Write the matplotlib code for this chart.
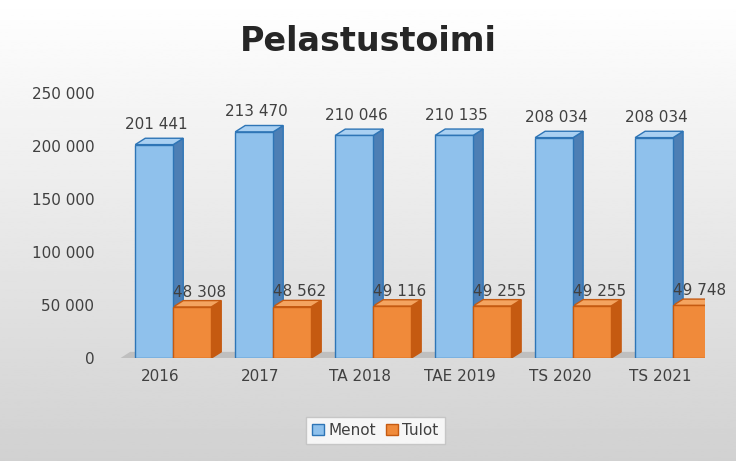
import matplotlib
matplotlib.use("Agg")
import matplotlib.pyplot as plt
from matplotlib.patches import Polygon, Patch
import numpy as np

categories = ["2016", "2017", "TA 2018", "TAE 2019", "TS 2020", "TS 2021"]
menot = [201441, 213470, 210046, 210135, 208034, 208034]
tulot = [48308, 48562, 49116, 49255, 49255, 49748]

def fmt(v):
    return f"{v:,}".replace(",", " ")

fig = plt.figure(figsize=(7.36, 4.61), dpi=100)
bg = fig.add_axes([0, 0, 1, 1], zorder=-10)
grad = np.linspace(1, 0.82, 256).reshape(-1, 1)
bg.imshow(grad, cmap="gray", vmin=0, vmax=1, aspect="auto", extent=[0, 1, 0, 1])
bg.axis("off")

ax = fig.add_axes([0.143, 0.223, 0.815, 0.575])
ax.patch.set_alpha(0)
x = np.arange(len(categories))
w = 0.38
dx, dy = 0.1, 6000

ax.add_patch(Polygon([[-0.55, 0], [len(categories) - 0.6, 0],
                      [len(categories) - 0.6 + dx, dy], [-0.55 + dx, dy]],
                     closed=True, fc="#bfbfbf", ec="none", zorder=0))

def bar3d(xl, h, face, side, top, edge):
    ax.add_patch(Polygon([[xl, 0], [xl + w, 0], [xl + w, h], [xl, h]], fc=face, ec=edge, lw=1, zorder=3))
    ax.add_patch(Polygon([[xl + w, 0], [xl + w + dx, dy], [xl + w + dx, h + dy], [xl + w, h]], fc=side, ec=edge, lw=1, zorder=2))
    ax.add_patch(Polygon([[xl, h], [xl + w, h], [xl + w + dx, h + dy], [xl + dx, h + dy]], fc=top, ec=edge, lw=1, zorder=2))

for i in range(len(categories)):
    bar3d(x[i] - w - 0.02, menot[i], "#8fc1ec", "#4d7fb5", "#a9d0f2", "#2e75b6")
    bar3d(x[i] - 0.02 + 0.0, tulot[i], "#f08a3a", "#c55a11", "#f4a460", "#c55a11")
    ax.text(x[i] - w / 2, menot[i] + 12000, fmt(menot[i]), ha="center", va="bottom", fontsize=11, color="#404040")
    ax.text(x[i] + w / 2 + 0.05, tulot[i] + 7000, fmt(tulot[i]), ha="center", va="bottom", fontsize=11, color="#404040")

ax.set_xlim(-0.7, len(categories) - 0.7)
ax.set_ylim(0, 250000)
ax.set_yticks(range(0, 250001, 50000))
ax.set_yticklabels([fmt(v) for v in range(0, 250001, 50000)], fontsize=11, color="#404040")
ax.set_xticks(x - 0.15)
ax.set_xticklabels(categories, fontsize=11, color="#404040")
ax.tick_params(length=0, pad=8)
for s in ax.spines.values():
    s.set_visible(False)

fig.text(0.5, 0.91, "Pelastustoimi", ha="center", va="center", fontsize=24, fontweight="bold", color="#262626")

fig.legend(handles=[Patch(fc="#8fc1ec", ec="#2e75b6", label="Menot"),
                    Patch(fc="#f08a3a", ec="#c55a11", label="Tulot")],
           loc="center", bbox_to_anchor=(0.51, 0.067), ncol=2, fontsize=11,
           frameon=True, edgecolor="#bfbfbf", fancybox=False, handlelength=0.8,
           handletextpad=0.3, columnspacing=0.6, labelcolor="#404040")
fig.savefig("out.png", dpi=100)
